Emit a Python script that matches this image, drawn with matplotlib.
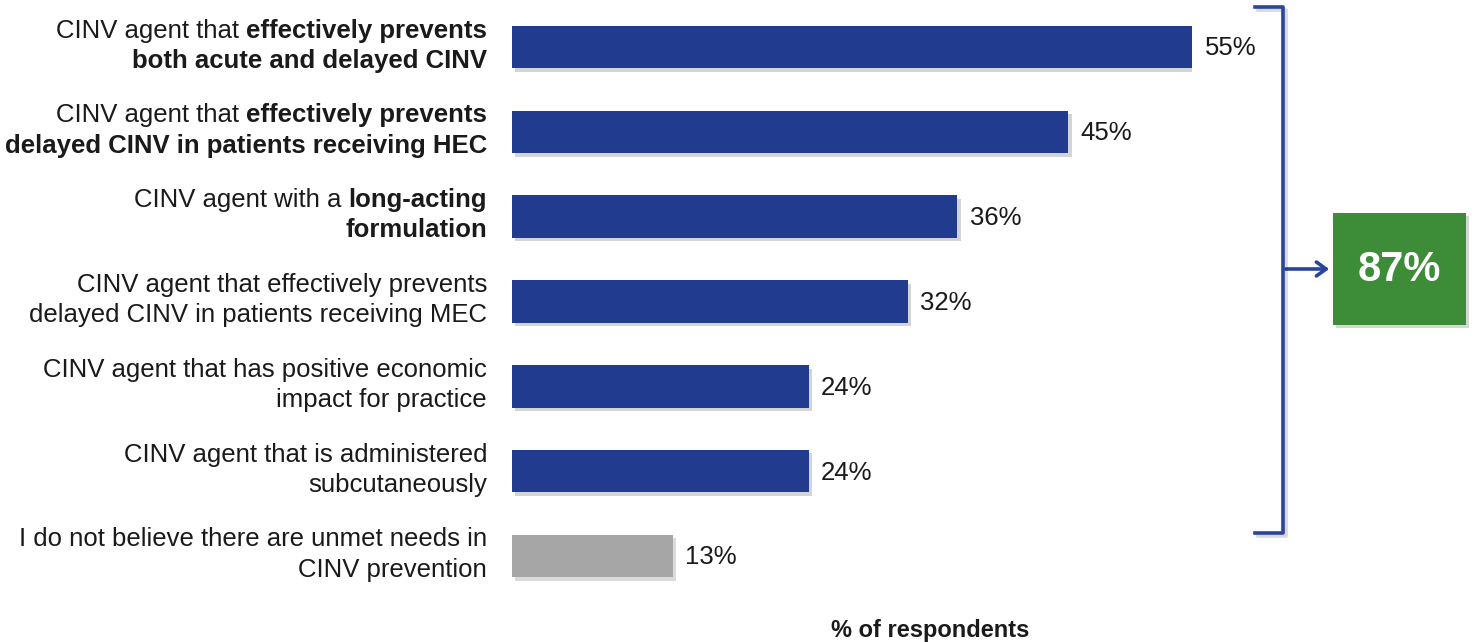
import numpy as np
import matplotlib
matplotlib.use("Agg")
import matplotlib.pyplot as plt
import matplotlib.patheffects as pe
from matplotlib.offsetbox import TextArea, HPacker, VPacker, AnnotationBbox
from matplotlib.patches import Rectangle, FancyArrowPatch
from matplotlib.lines import Line2D

# -----------------------------
# DATA
# -----------------------------
# each label is a list of lines, each line a list of (text, bold) segments
labels = [
    [[("CINV agent that", False), ("effectively prevents", True)],
     [("both acute and delayed CINV", True)]],
    [[("CINV agent that", False), ("effectively prevents", True)],
     [("delayed CINV in patients receiving HEC", True)]],
    [[("CINV agent with a", False), ("long-acting", True)],
     [("formulation", True)]],
    [[("CINV agent that effectively prevents", False)],
     [("delayed CINV in patients receiving MEC", False)]],
    [[("CINV agent that has positive economic", False)],
     [("impact for practice", False)]],
    [[("CINV agent that is administered", False)],
     [("subcutaneously", False)]],
    [[("I do not believe there are unmet needs in", False)],
     [("CINV prevention", False)]],
]
values = [55, 45, 36, 32, 24, 24, 13]
unmet_total = 87
xlabel = "% of respondents"

# -----------------------------
# STYLE
# -----------------------------
plt.rcParams["font.family"] = ["Liberation Sans", "DejaVu Sans"]
FS = 18.5
BLUE = "#213b8f"
GREY = "#a6a6a6"
GREEN = "#3d8c38"
LINE = "#2a469b"
TEXT = "#1a1a1a"

W, H = 1476, 642
fig = plt.figure(figsize=(W / 100, H / 100), dpi=100)

# axes placed in pixel terms: bars start at x=512, 55% reaches x=1192
ax = fig.add_axes([512 / W, (H - 598.4) / H, 680 / W, 593.8 / H])
ax.set_xlim(0, 55)
ax.set_ylim(len(values) - 0.5, -0.5)
ax.axis("off")

y = np.arange(len(values))
colors = [BLUE] * (len(values) - 1) + [GREY]
bars = ax.barh(y, values, height=0.5, color=colors, zorder=2)
for b in bars:
    b.set_path_effects([pe.SimplePatchShadow(offset=(2.5, -2.5), alpha=0.18, rho=0.3),
                        pe.Normal()])

# value labels
for yi, v in zip(y, values):
    ax.annotate(f"{v}%", xy=(v, yi), xytext=(9, -1), textcoords="offset points",
                va="center", ha="left", fontsize=FS, color=TEXT)

# category labels with mixed bold / regular runs
space = 0.278 * FS
for yi, lab in zip(y, labels):
    rows = []
    for line in lab:
        parts = [TextArea(t, textprops=dict(fontsize=FS, color=TEXT,
                                            fontweight="bold" if bold else "normal"))
                 for t, bold in line]
        rows.append(HPacker(children=parts, align="baseline", pad=0, sep=space))
    box = VPacker(children=rows, align="right", pad=0, sep=4.5)
    ab = AnnotationBbox(box, (0, yi), xycoords=ax.get_yaxis_transform(),
                        xybox=(-18, 1), boxcoords="offset points",
                        box_alignment=(1, 0.5), frameon=False, pad=0)
    ax.add_artist(ab)

# -----------------------------
# BRACKET, ARROW AND TOTAL BOX
# -----------------------------
def fx(px):
    return px / W

def fy(py):
    return 1 - py / H

shadow = [pe.SimpleLineShadow(offset=(2, -2), alpha=0.15), pe.Normal()]
bracket = Line2D([fx(1255), fx(1283), fx(1283), fx(1255)],
                 [fy(7), fy(7), fy(533), fy(533)],
                 transform=fig.transFigure, color=LINE, lw=2.6,
                 solid_joinstyle="round", path_effects=shadow)
fig.add_artist(bracket)

arrow = FancyArrowPatch((fx(1283), fy(269)), (fx(1332), fy(269)),
                        transform=fig.transFigure, arrowstyle="->,head_length=7,head_width=5",
                        color=LINE, lw=2.6, mutation_scale=1)
fig.add_artist(arrow)

box = Rectangle((fx(1333), fy(325)), fx(1466) - fx(1333), fy(213) - fy(325),
                transform=fig.transFigure, facecolor=GREEN, edgecolor="none",
                path_effects=[pe.SimplePatchShadow(offset=(2.5, -2.5), alpha=0.18),
                              pe.Normal()])
fig.add_artist(box)
fig.text(fx(1399), fy(270), f"{unmet_total}%", ha="center", va="center",
         fontsize=30, fontweight="bold", color="white")

fig.text(fx(930), fy(630), xlabel, ha="center", va="center",
         fontsize=17, fontweight="bold", color=TEXT)

fig.savefig("out.png", dpi=100, facecolor="white")
